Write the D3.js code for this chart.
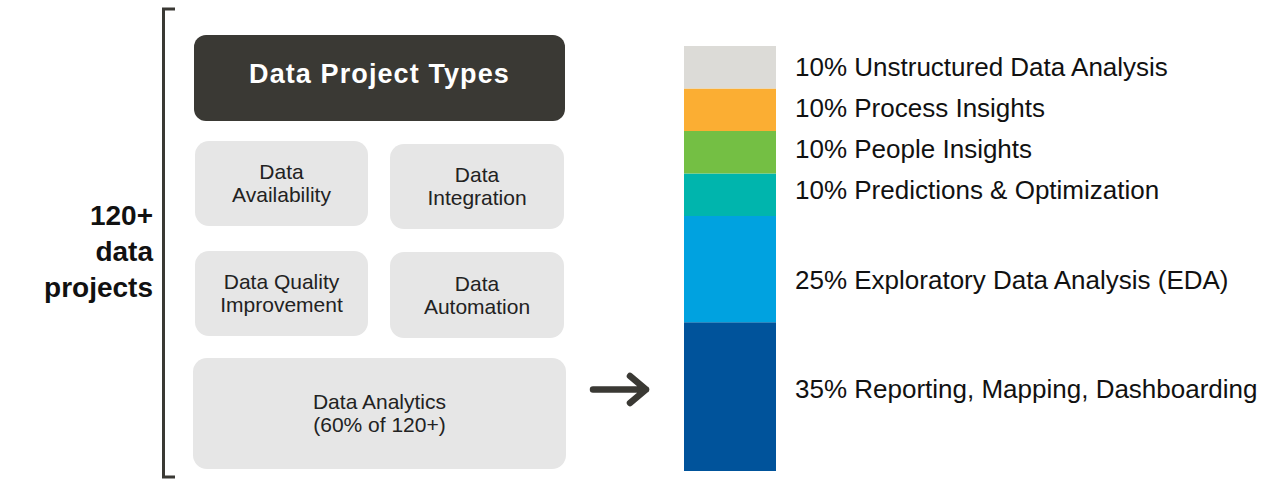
<!DOCTYPE html>
<html>
<head>
<meta charset="utf-8">
<script src="https://cdn.jsdelivr.net/npm/d3@7"></script>
<style>
  body { margin: 0; background: #fff; }
  svg { display: block; font-family: "Liberation Sans", Arial, sans-serif; }
</style>
</head>
<body>
<div id="view"></div>
<script>
// bar segments, bottom to top
var categories = ['Reporting, Mapping, Dashboarding', 'Exploratory Data Analysis (EDA)',
  'Predictions & Optimization', 'People Insights', 'Process Insights', 'Unstructured Data Analysis'];
var shares = [35, 25, 10, 10, 10, 10];
var segColors = ['#00539b', '#00a2e0', '#00b5ad', '#74bf44', '#fbae33', '#dcdbd7'];

var title = 'Data Project Types';
var projectTypes = [['Data', 'Availability'], ['Data', 'Integration'],
  ['Data Quality', 'Improvement'], ['Data', 'Automation'], ['Data Analytics', '(60% of 120+)']];
var totalLabel = ['120+', 'data', 'projects'];

var W = 1281, H = 480;
var DARK = '#3a3934';

var svg = d3.select('#view').append('svg').attr('width', W).attr('height', H);

// left label + bracket
svg.append('text').attr('text-anchor', 'end').attr('font-weight', 'bold')
  .attr('font-size', 28).attr('fill', '#111')
  .selectAll('tspan').data(totalLabel).enter().append('tspan')
  .attr('x', 153).attr('y', function(d, i) { return 225 + i * 36; })
  .text(function(d) { return d; });

svg.append('path').attr('d', 'M175,9 H163.5 V477 H175')
  .attr('fill', 'none').attr('stroke', DARK).attr('stroke-width', 3);

// title box
svg.append('rect').attr('x', 194).attr('y', 35).attr('width', 371).attr('height', 86)
  .attr('rx', 12).attr('fill', DARK);
svg.append('text').attr('x', 379.5).attr('y', 83).attr('text-anchor', 'middle')
  .attr('font-size', 27).attr('font-weight', 'bold').attr('letter-spacing', 1.1)
  .attr('fill', '#fff').text(title);

// type boxes
var boxes = [
  { x: 195, y: 141, w: 173, h: 85 },
  { x: 390, y: 144, w: 174, h: 85 },
  { x: 195, y: 251, w: 173, h: 85 },
  { x: 390, y: 252, w: 174, h: 86 },
  { x: 193, y: 358, w: 373, h: 111 }
];

var g = svg.selectAll('g.box').data(projectTypes).enter().append('g').classed('box', true);
g.append('rect')
  .attr('x', function(d, i) { return boxes[i].x; })
  .attr('y', function(d, i) { return boxes[i].y; })
  .attr('width', function(d, i) { return boxes[i].w; })
  .attr('height', function(d, i) { return boxes[i].h; })
  .attr('rx', 14).attr('fill', '#e6e6e6');
g.append('text').attr('text-anchor', 'middle').attr('font-size', 21).attr('fill', '#222')
  .each(function(d, i) {
    var b = boxes[i];
    var cy = b.y + b.h / 2;
    d3.select(this).selectAll('tspan').data(d).enter().append('tspan')
      .attr('x', b.x + b.w / 2)
      .attr('y', function(t, j) { return cy - 11.5 + j * 23 + 7; })
      .text(function(t) { return t; });
  });

// arrow
svg.append('path').attr('d', 'M593,389.5 H646 M630,376 L646,389.5 L630,403')
  .attr('fill', 'none').attr('stroke', DARK).attr('stroke-width', 6.5)
  .attr('stroke-linecap', 'round').attr('stroke-linejoin', 'round');

// stacked bar
var y = d3.scaleLinear().domain([0, d3.sum(shares)]).range([471, 46]);
var color = d3.scaleOrdinal().domain(categories).range(segColors);

var stacked = [];
var acc = 0;
for (var i = 0; i < shares.length; i++) {
  stacked.push({ name: categories[i], value: shares[i], y0: acc, y1: acc + shares[i] });
  acc += shares[i];
}

svg.selectAll('rect.seg').data(stacked).enter().append('rect').classed('seg', true)
  .attr('x', 684).attr('width', 92)
  .attr('y', function(d) { return y(d.y1); })
  .attr('height', function(d) { return y(d.y0) - y(d.y1); })
  .attr('fill', function(d) { return color(d.name); });

// labels in the original are not exactly centred on their segments
var labelNudge = [-8, 11, -5, -3, -2, 0];
svg.selectAll('text.lbl').data(stacked).enter().append('text').classed('lbl', true)
  .attr('x', 795)
  .attr('y', function(d, i) { return y((d.y0 + d.y1) / 2) + labelNudge[i]; })
  .attr('dy', '0.35em')
  .attr('font-size', 26).attr('fill', '#111')
  .text(function(d) { return d.value + '% ' + d.name; });
</script>
</body>
</html>
